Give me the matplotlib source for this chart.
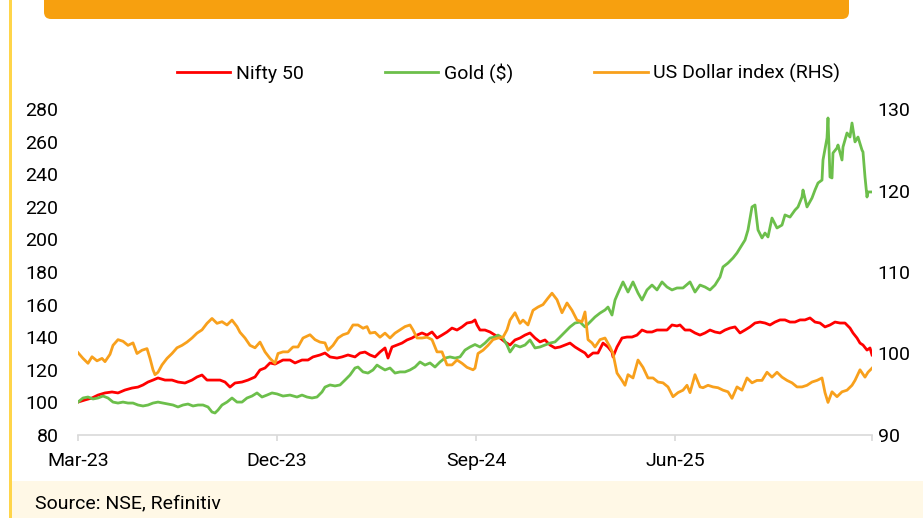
import matplotlib
matplotlib.use('Agg')
import matplotlib.pyplot as plt
import matplotlib.patches as mpatches
from matplotlib.transforms import IdentityTransform

# x = trading-day index since Mar-23
nifty_day = [0, 7, 14, 20, 27, 34, 40, 47, 54, 60, 65, 70, 75, 80, 87, 94, 100, 107, 114, 119,
             124, 129, 135, 142, 147, 152, 157, 164, 170, 177, 182, 187, 192, 197, 205, 212, 217,
             224, 230, 235, 242, 247, 252, 259, 264, 270, 277, 282, 287, 292, 297, 302, 307, 310,
             314, 319, 324, 329, 334, 339, 344, 349, 354, 359, 364, 369, 374, 379, 384, 389, 394,
             397, 399, 402, 407, 412, 417, 422, 427, 432, 437, 442, 447, 452, 457, 462, 467, 472,
             477, 482, 487, 492, 497, 502, 507, 510, 515, 520, 525, 530, 534, 535, 539, 544, 549,
             554, 559, 564, 569, 574, 579, 584, 589, 594, 599, 602, 607, 612, 617, 622, 627, 632,
             637, 642, 647, 652, 657, 662, 667, 672, 677, 682, 687, 692, 697, 702, 707, 712, 717,
             722, 727, 732, 737, 742, 747, 752, 757, 762, 767, 772, 775, 779, 782, 785, 789, 792, 794]
nifty = [100.2, 101.5, 102.7, 104.5, 105.8, 106.4, 105.8, 107.6, 108.8, 109.4, 110.7, 112.5, 113.7,
         115.0, 113.7, 113.7, 112.5, 111.9, 113.7, 115.6, 116.8, 113.7, 113.7, 113.7, 112.5, 109.4,
         111.9, 112.5, 113.7, 115.6, 119.9, 121.1, 124.2, 123.5, 126.0, 126.0, 124.2, 126.0, 126.0,
         127.9, 129.1, 130.3, 127.9, 127.2, 127.9, 129.1, 127.9, 130.3, 130.9, 129.1, 127.9, 130.9,
         133.4, 127.2, 134.0, 135.2, 136.4, 138.3, 139.5, 141.3, 142.6, 141.3, 143.2, 139.5, 141.3,
         143.2, 145.6, 144.4, 146.3, 148.7, 149.3, 150.6, 147.5, 144.4, 144.4, 143.2, 141.3, 139.5,
         137.1, 135.2, 138.3, 139.5, 141.3, 142.6, 139.5, 137.1, 138.3, 135.2, 133.4, 134.0, 135.2,
         136.4, 134.0, 132.1, 130.3, 127.9, 130.3, 130.3, 136.4, 134.0, 130.9, 127.9, 134.0, 139.5,
         140.1, 140.1, 141.3, 144.4, 143.2, 143.2, 144.4, 144.4, 144.4, 147.5, 146.9, 147.5, 144.4,
         144.4, 142.6, 141.3, 142.6, 144.4, 143.2, 142.6, 144.4, 145.6, 146.3, 142.6, 144.4, 146.3,
         148.7, 149.3, 148.7, 147.5, 149.3, 150.6, 150.6, 149.3, 149.3, 150.6, 150.6, 151.8, 149.3,
         148.7, 146.3, 147.5, 149.3, 148.7, 148.7, 145.6, 142.6, 139.5, 136.4, 135.2, 132.1, 133.4,
         129.1]

gold_day = [0, 5, 10, 15, 20, 25, 30, 35, 40, 45, 50, 55, 60, 65, 70, 75, 80, 85, 90, 95, 100, 105,
            110, 115, 120, 125, 130, 134, 137, 140, 144, 149, 154, 159, 164, 169, 174, 179, 184, 189,
            194, 199, 205, 212, 219, 224, 229, 234, 239, 244, 247, 252, 257, 262, 267, 272, 277, 280,
            285, 290, 295, 299, 302, 307, 312, 317, 322, 327, 332, 337, 342, 347, 352, 357, 362, 367,
            372, 377, 382, 387, 392, 397, 402, 407, 412, 417, 420, 425, 429, 432, 437, 442, 447, 452,
            457, 462, 467, 472, 477, 482, 487, 492, 497, 502, 507, 512, 517, 522, 527, 530, 534, 537,
            540, 545, 550, 555, 560, 564, 569, 574, 579, 584, 589, 594, 599, 605, 612, 617, 622, 627,
            632, 637, 642, 645, 650, 655, 659, 664, 667, 670, 674, 677, 680, 684, 687, 690, 694, 699,
            704, 707, 712, 717, 720, 724, 725, 729, 734, 737, 740, 744, 745, 749, 750, 752, 754, 755,
            759, 760, 764, 765, 769, 772, 774, 777, 780, 784, 785, 787, 789, 790, 794]
gold = [100.2, 102.7, 103.3, 102.1, 102.7, 103.9, 102.7, 100.2, 99.6, 100.2, 99.6, 99.6, 98.4, 97.8,
        98.4, 99.6, 100.2, 99.6, 99.0, 98.4, 97.2, 98.4, 99.0, 97.8, 98.4, 98.4, 97.2, 94.1, 93.5,
        95.3, 98.4, 100.2, 102.7, 100.2, 100.2, 102.7, 103.9, 105.8, 103.3, 104.5, 105.8, 105.2,
        103.9, 104.5, 103.3, 104.5, 103.3, 102.7, 103.3, 106.4, 109.4, 110.7, 110.1, 110.7, 113.7,
        116.8, 121.1, 121.7, 118.7, 118.0, 119.9, 122.9, 121.7, 119.9, 121.1, 118.0, 118.7, 118.7,
        119.9, 121.7, 124.8, 122.9, 124.2, 121.7, 124.8, 127.2, 127.9, 127.2, 127.9, 132.1, 134.0,
        135.5, 134.0, 136.4, 139.5, 140.1, 141.3, 139.5, 135.2, 130.9, 135.2, 134.0, 135.2, 138.3,
        133.4, 134.0, 135.2, 136.4, 137.1, 140.1, 143.2, 146.3, 148.7, 149.3, 146.3, 149.3, 152.4,
        154.8, 156.7, 158.5, 153.6, 162.8, 167.1, 173.9, 167.7, 173.9, 167.1, 162.8, 169.0, 172.0,
        169.0, 173.9, 170.8, 169.0, 170.2, 170.2, 173.9, 167.7, 172.0, 170.8, 169.0, 172.0, 176.9,
        183.1, 185.5, 188.6, 191.7, 196.6, 199.6, 205.8, 219.9, 221.1, 205.8, 200.9, 203.9, 201.5,
        213.1, 207.0, 208.8, 215.0, 213.7, 218.0, 219.9, 226.0, 230.3, 219.9, 225.4, 230.3, 234.6,
        236.4, 248.7, 262.2, 274.5, 238.3, 237.7, 253.0, 256.1, 257.9, 248.7, 256.7, 265.3, 262.8,
        271.4, 259.8, 262.8, 254.8, 253.6, 238.3, 226.0, 229.1, 229.1]

usd_day = [0, 5, 10, 14, 19, 24, 27, 32, 35, 40, 45, 50, 55, 59, 64, 69, 72, 75, 77, 80, 84, 89, 94,
           99, 104, 109, 114, 119, 124, 129, 134, 139, 144, 149, 154, 159, 162, 167, 172, 177, 182,
           187, 192, 197, 200, 205, 210, 215, 220, 225, 232, 237, 242, 247, 250, 255, 260, 265, 270,
           275, 280, 285, 289, 292, 297, 302, 307, 312, 317, 322, 327, 332, 335, 339, 344, 349, 354,
           359, 364, 369, 374, 379, 384, 389, 395, 397, 400, 405, 410, 415, 420, 425, 429, 432, 437,
           442, 445, 450, 455, 460, 465, 470, 474, 479, 484, 489, 494, 499, 504, 507, 510, 514, 517,
           522, 527, 532, 535, 539, 544, 547, 550, 555, 560, 565, 570, 575, 580, 585, 590, 595, 600,
           605, 609, 612, 617, 622, 625, 630, 635, 640, 645, 650, 654, 659, 664, 669, 674, 679, 684,
           689, 694, 699, 704, 709, 714, 719, 724, 729, 734, 739, 744, 747, 750, 754, 759, 764, 769,
           774, 777, 782, 787, 790, 794]
usd = [100.1, 99.4, 98.8, 99.6, 99.1, 99.4, 99.0, 99.9, 101.0, 101.7, 101.5, 101.0, 101.3, 100.0,
       100.4, 100.6, 99.4, 98.0, 97.4, 97.7, 98.6, 99.4, 100.0, 100.7, 101.0, 101.4, 101.9, 102.5,
       102.9, 103.7, 104.3, 103.7, 103.9, 103.5, 104.1, 103.3, 102.6, 101.9, 101.0, 100.7, 101.4,
       100.2, 99.4, 98.8, 100.0, 100.2, 100.2, 100.8, 100.8, 101.9, 102.3, 101.7, 101.4, 101.3,
       100.4, 101.0, 101.9, 102.3, 102.5, 103.5, 103.5, 103.1, 103.3, 102.5, 102.6, 102.0, 102.5,
       101.9, 102.5, 102.9, 103.3, 103.5, 102.9, 101.9, 101.9, 102.0, 101.7, 100.2, 100.2, 98.6,
       98.6, 99.2, 98.8, 98.3, 98.0, 98.2, 100.0, 100.4, 101.0, 101.7, 101.9, 102.0, 102.9, 104.1,
       105.0, 103.7, 104.1, 103.5, 105.3, 105.7, 106.0, 106.8, 107.4, 106.6, 105.0, 106.2, 105.3,
       104.1, 103.9, 105.1, 101.7, 101.3, 100.8, 101.7, 101.9, 100.8, 100.0, 97.6, 96.7, 96.1,
       97.4, 97.0, 99.2, 98.3, 97.0, 97.0, 96.5, 96.4, 95.9, 94.7, 95.2, 95.5, 96.1, 95.2, 97.4,
       95.9, 95.8, 96.1, 95.9, 95.8, 95.5, 95.3, 94.5, 95.9, 95.5, 97.0, 96.4, 96.7, 96.7, 97.7,
       97.1, 97.7, 97.1, 96.7, 96.4, 95.9, 95.9, 96.1, 96.5, 96.7, 97.0, 95.2, 94.0, 95.3, 94.7,
       95.3, 95.5, 96.1, 96.7, 98.0, 97.1, 97.7, 98.2]

tick_days = [0, 199, 398, 597, 794]
tick_labels = ['Mar-23', 'Dec-23', 'Sep-24', 'Jun-25', '']
left_ticks = list(range(80, 281, 20))
right_ticks = [90, 100, 110, 120, 130]

RED = '#FF0000'
GREEN = '#6CBF4B'
ORANGE = '#F8A01C'
GREY = '#D9D9D9'
FS = 14

plt.rcParams['font.family'] = ['Roboto', 'DejaVu Sans']
plt.rcParams['font.size'] = FS

W, H = 923, 518
fig = plt.figure(figsize=(W / 100, H / 100), dpi=100)

# page decoration: banner, left rule, source strip
fig.patches.append(mpatches.FancyBboxPatch((44, H - 19), 805, 40,
                                           boxstyle='round,pad=0,rounding_size=7',
                                           transform=IdentityTransform(), facecolor='#F7A00F',
                                           edgecolor='none', figure=fig))
fig.patches.append(mpatches.Rectangle((12, 0), W - 12, 37, transform=IdentityTransform(),
                                      facecolor='#FFF8E6', edgecolor='none', figure=fig))
fig.patches.append(mpatches.Rectangle((8.5, 0), 3, H, transform=IdentityTransform(),
                                      facecolor='#FFD54A', edgecolor='none', figure=fig))
fig.text(35 / W, 15 / H, 'Source: NSE, Refinitiv', ha='left', va='center', fontsize=FS)

ax = fig.add_axes([78 / W, 1 - 435 / H, 794 / W, 326 / H])
ax2 = ax.twinx()

l1, = ax.plot(nifty_day, nifty, color=RED, lw=2.0, label='Nifty 50')
l2, = ax.plot(gold_day, gold, color=GREEN, lw=2.0, label='Gold ($)')
l3, = ax2.plot(usd_day, usd, color=ORANGE, lw=2.0, label='US Dollar index (RHS)')

ax.set_xlim(0, 794)
ax.set_ylim(80, 280)
ax2.set_ylim(90, 130)
ax.set_yticks(left_ticks)
ax2.set_yticks(right_ticks)
ax.set_xticks(tick_days)
ax.set_xticklabels(tick_labels)

for a in (ax, ax2):
    for s in ('top', 'left', 'right', 'bottom'):
        a.spines[s].set_visible(False)
ax.spines['bottom'].set_visible(True)
ax.spines['bottom'].set_color(GREY)
ax.spines['bottom'].set_linewidth(1.2)

ax.tick_params(axis='x', length=4, width=1.2, color=GREY, pad=8, labelsize=FS)
ax.tick_params(axis='y', length=0, pad=14, labelsize=FS)
ax2.tick_params(axis='y', length=0, pad=4, labelsize=FS)

fig.legend(handles=[l1, l2, l3], loc='center left', bbox_to_anchor=(177 / W, 1 - 73 / H),
           ncol=3, frameon=False, handlelength=2.75, handletextpad=0.3, columnspacing=4.15,
           borderpad=0, borderaxespad=0, fontsize=FS)

fig.savefig('out.png', dpi=100)
